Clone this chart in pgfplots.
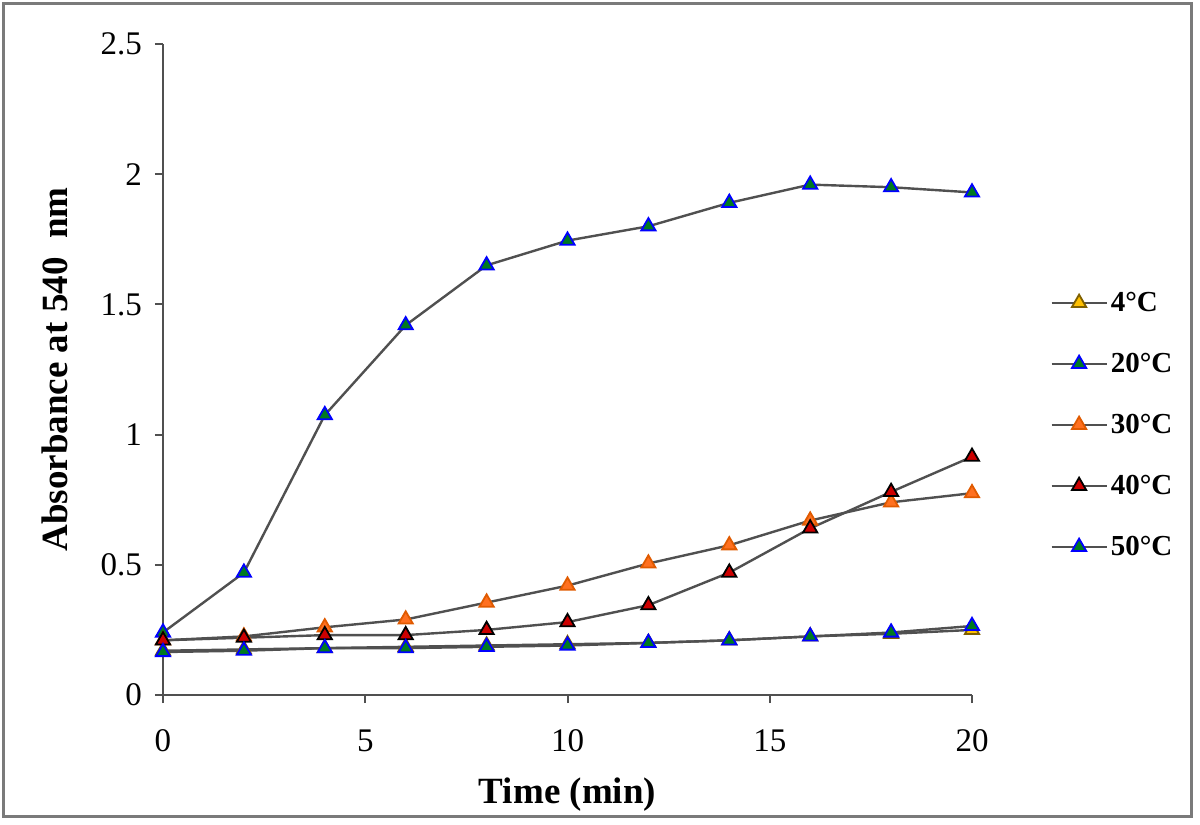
\documentclass[border=0pt]{standalone}
\usepackage{pgfplots}
\pgfplotsset{compat=1.18}
\usepackage{fontspec}
\setmainfont{Liberation Serif}

\definecolor{linegray}{HTML}{505050}
\definecolor{framegray}{HTML}{7A7A7A}
\definecolor{goldfill}{HTML}{FFC000}
\definecolor{goldedge}{HTML}{7F6000}
\definecolor{greenfill}{HTML}{007A20}
\definecolor{orangefill}{HTML}{FF7020}
\definecolor{orangeedge}{HTML}{E05A00}
\definecolor{redfill}{HTML}{CC0000}

% Absorbance vs time, one table per temperature
\pgfplotstableread{
t   A
0   0.170
2   0.175
4   0.180
6   0.185
8   0.190
10  0.195
12  0.200
14  0.210
16  0.225
18  0.235
20  0.250
}\tfour
\pgfplotstableread{
t   A
0   0.240
2   0.470
4   1.075
6   1.420
8   1.650
10  1.745
12  1.800
14  1.890
16  1.960
18  1.950
20  1.930
}\ttwenty
\pgfplotstableread{
t   A
0   0.210
2   0.225
4   0.260
6   0.290
8   0.355
10  0.420
12  0.505
14  0.575
16  0.670
18  0.740
20  0.775
}\tthirty
\pgfplotstableread{
t   A
0   0.210
2   0.220
4   0.230
6   0.230
8   0.250
10  0.280
12  0.345
14  0.470
16  0.640
18  0.780
20  0.915
}\tforty
\pgfplotstableread{
t   A
0   0.165
2   0.170
4   0.180
6   0.180
8   0.185
10  0.190
12  0.200
14  0.210
16  0.225
18  0.240
20  0.265
}\tfifty

\begin{document}
\begin{tikzpicture}
\path (-81.5bp,-65bp) rectangle (518.5bp,347.5bp);
\draw[line width=1.5bp, framegray] (-79.5bp,-60.5bp) rectangle (514bp,345.5bp);
\begin{axis}[
  scale only axis,
  width=404.5bp, height=325.5bp,
  xmin=0, xmax=20, ymin=0, ymax=2.5,
  xtick={0,5,10,15,20},
  ytick={0,0.5,1,1.5,2,2.5},
  axis lines*=left,
  tick align=outside,
  major tick length=4bp,
  axis line style={line width=1.2bp, linegray},
  tick style={line width=1bp, linegray},
  clip=false,
  ticklabel style={font=\fontsize{16.5bp}{18bp}\selectfont, /pgf/number format/assume math mode=true},
  xticklabel style={yshift=-10bp},
  yticklabel style={xshift=-3bp},
  xlabel={\textbf{Time (min)}},
  ylabel={\textbf{Absorbance at 540\ \ nm}},
  label style={font=\fontsize{18.5bp}{20bp}\selectfont},
  xlabel style={at={(axis description cs:0.5,-0.1536)}, anchor=center},
  ylabel style={at={(axis description cs:-0.1335,0.5)}, anchor=center},
  legend style={at={(axis description cs:1.0964,0.415)}, anchor=west,
    draw=none, fill=none, font=\bfseries\fontsize{14.5bp}{16bp}\selectfont,
    inner sep=0pt, row sep=16.5bp,
    nodes={inner sep=1.5bp, text height=10bp, text depth=1bp}},
  legend cell align=left,
  legend image code/.code={\draw[mark repeat=2, mark phase=2, #1]
    plot coordinates {(0bp,0bp) (13.75bp,0bp) (27.5bp,0bp)};},
  every axis plot/.append style={line width=1.2bp, linegray, mark=triangle*,
    mark size=4.1bp},
]
\addplot[mark options={solid, line width=0.9bp, fill=goldfill, draw=goldedge}] table[x=t, y=A] {\tfour};
\addlegendentry{4°C}
\addplot[mark options={solid, line width=0.9bp, fill=greenfill, draw=blue}] table[x=t, y=A] {\ttwenty};
\addlegendentry{20°C}
\addplot[mark options={solid, line width=0.9bp, fill=orangefill, draw=orangeedge}] table[x=t, y=A] {\tthirty};
\addlegendentry{30°C}
\addplot[mark options={solid, line width=0.9bp, fill=redfill, draw=black}] table[x=t, y=A] {\tforty};
\addlegendentry{40°C}
\addplot[mark options={solid, line width=0.9bp, fill=greenfill, draw=blue}] table[x=t, y=A] {\tfifty};
\addlegendentry{50°C}
\end{axis}
\end{tikzpicture}
\end{document}
